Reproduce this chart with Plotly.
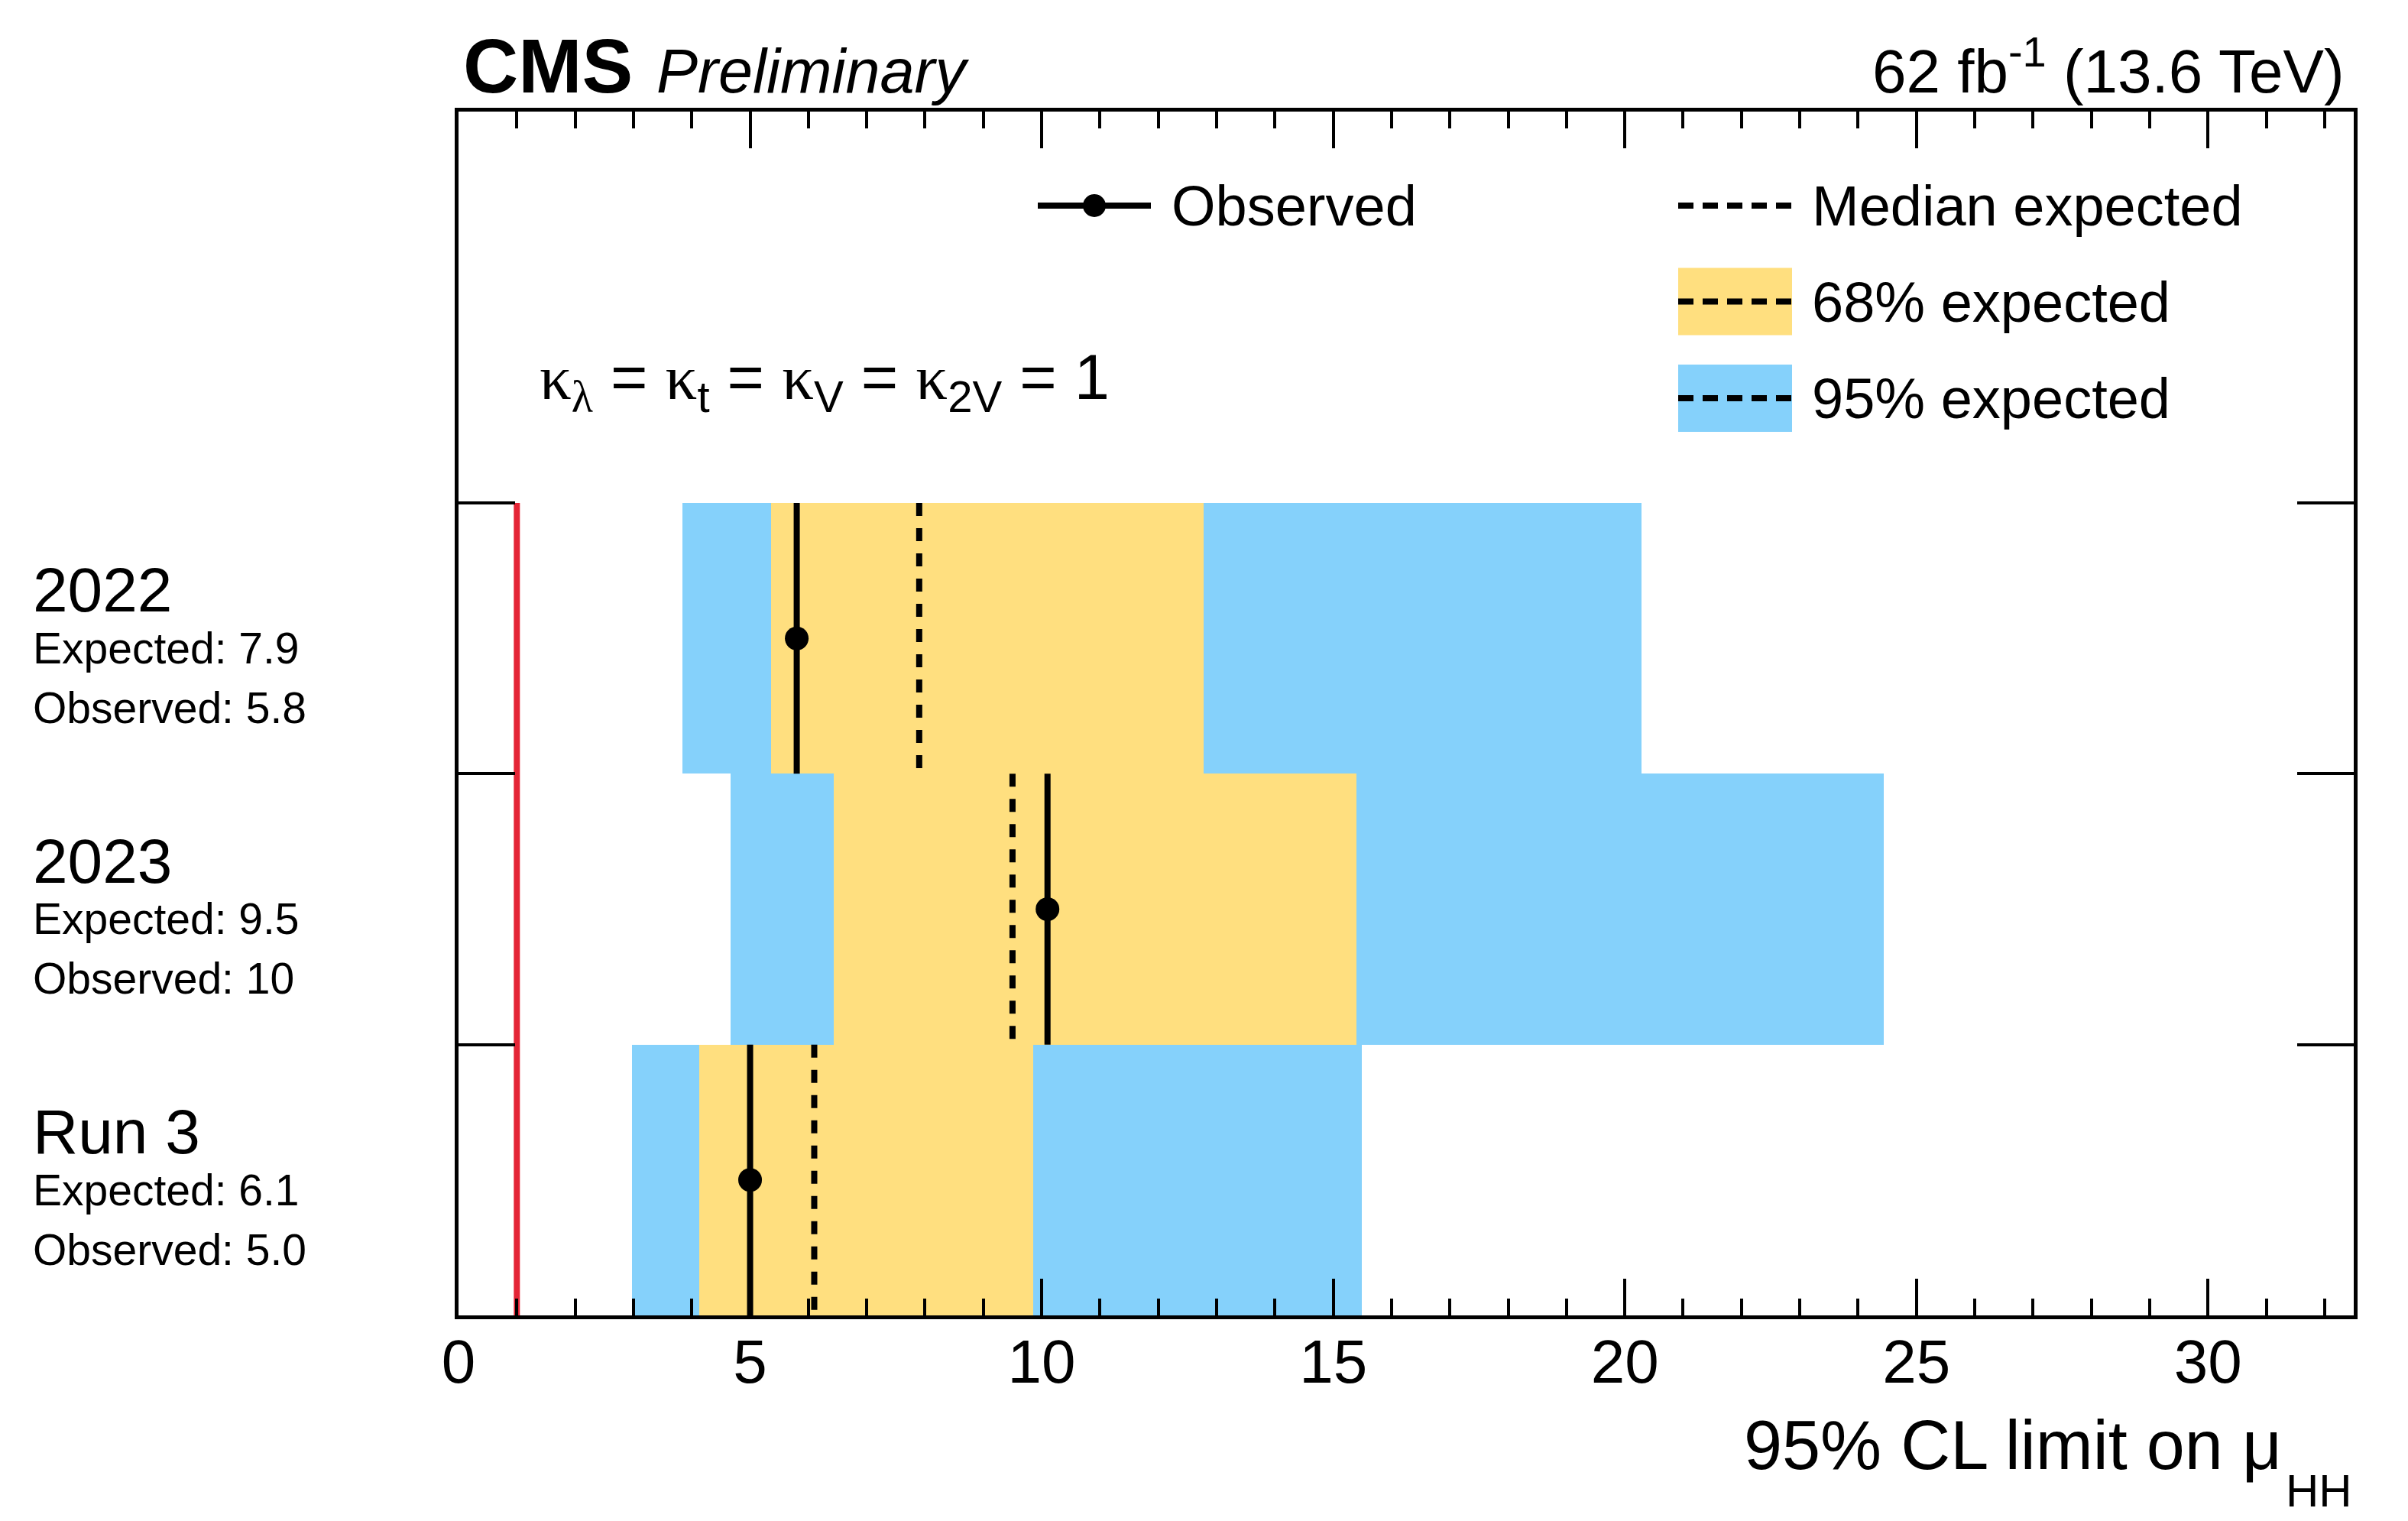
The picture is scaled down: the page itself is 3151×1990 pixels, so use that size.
import plotly.graph_objects as go

# ---------------- data ----------------
categories = ["2022", "2023", "Run 3"]
observed = [5.8, 10.1, 5.0]
expected = [7.9, 9.5, 6.1]
lo68 = [5.36, 6.44, 4.13]
hi68 = [12.78, 15.40, 9.85]
lo95 = [3.84, 4.67, 2.98]
hi95 = [20.28, 24.44, 15.49]
expected_labels = ["7.9", "9.5", "6.1"]
observed_labels = ["5.8", "10", "5.0"]
sm_value = 1.0
x_ticks = [0, 5, 10, 15, 20, 25, 30]

# ---------------- style ----------------
W, H = 3151, 1990
L, R, T, B = 592, 3072, 138, 1713
FONT = "Liberation Sans"
YEL = "#FFDF7F"
BLU = "#85D1FB"
RED = "#E42536"
n = len(categories)
YMAX = 4.445


def px(x):
    return (x - L) / (R - L)


def py(y):
    return (B - y) / (B - T)


fig = go.Figure()
centers = [n - 1 - i + 0.5 for i in range(n)]

fig.add_trace(go.Bar(y=centers, x=[h - l for l, h in zip(lo95, hi95)], base=lo95,
                     orientation="h", width=1, marker=dict(color=BLU, line=dict(width=0)),
                     showlegend=False, hoverinfo="skip"))
fig.add_trace(go.Bar(y=centers, x=[h - l for l, h in zip(lo68, hi68)], base=lo68,
                     orientation="h", width=1, marker=dict(color=YEL, line=dict(width=0)),
                     showlegend=False, hoverinfo="skip"))

fig.add_trace(go.Scatter(x=[sm_value, sm_value], y=[0, n], mode="lines",
                         line=dict(color=RED, width=8), showlegend=False, hoverinfo="skip"))

for i, c in enumerate(centers):
    fig.add_trace(go.Scatter(x=[expected[i], expected[i]], y=[c + 0.5, c - 0.5], mode="lines",
                             line=dict(color="black", width=8, dash="17px,16px"),
                             showlegend=False, hoverinfo="skip"))
    fig.add_trace(go.Scatter(x=[observed[i], observed[i]], y=[c - 0.5, c + 0.5], mode="lines",
                             line=dict(color="black", width=8),
                             showlegend=False, hoverinfo="skip"))

fig.add_trace(go.Scatter(x=observed, y=centers, mode="markers",
                         marker=dict(size=31, color="black", opacity=1, line=dict(width=0)),
                         showlegend=False, hoverinfo="skip"))

ann = []


def text(x, y, s, size, xanchor="left", yanchor="bottom", **kw):
    ann.append(dict(x=x, y=y, xref="paper", yref="paper", text=s, showarrow=False,
                    xanchor=xanchor, yanchor=yanchor,
                    font=dict(family=FONT, size=size, color="black"), **kw))


# header
text(px(596), py(115 + 0.212 * 100), "<b>CMS</b>", 100)
text(px(849), py(115 + 0.212 * 81), "<i>Preliminary</i>", 81)
text(px(3062), py(115 + 0.212 * 80), "62 fb<sup>-1</sup> (13.6 TeV)", 80, xanchor="right")

# kappa text
k = '<span style="font-family:Liberation Serif">κ</span>'
ktxt = (k + '<sub><span style="font-family:Liberation Serif">λ</span></sub> = ' + k
        + "<sub>t</sub> = " + k + "<sub>V</sub> = " + k + "<sub>2V</sub> = 1")
text(px(696), py(509 + 0.448 * 83), ktxt, 83)

# legend text
text(px(1523), py(289 + 0.212 * 74), "Observed", 74)
text(px(2361), py(289 + 0.212 * 74), "Median expected", 74)
text(px(2361), py(415 + 0.212 * 74), "68% expected", 74)
text(px(2361), py(541 + 0.212 * 74), "95% expected", 74)

# x title
text(px(2980), py(1916 + 0.212 * 90), "95% CL limit on μ", 90, xanchor="right")
text(px(3072), py(1965 + 0.212 * 60), "HH", 60, xanchor="right")

# row labels
row_h = (B - T) / YMAX
for i, cat in enumerate(categories):
    top = B - (n - i) * row_h
    text(px(33), py(top + 144 + 0.212 * 82), cat, 82)
    text(px(33), py(top + 212 + 0.212 * 57), "Expected: " + expected_labels[i], 57)
    text(px(33), py(top + 290 + 0.212 * 57), "Observed: " + observed_labels[i], 57)

# legend glyph shapes
shapes = []
shapes.append(dict(type="rect", xref="paper", yref="paper", x0=px(2188), x1=px(2337),
                   y0=py(430.5), y1=py(342.5), fillcolor=YEL, line=dict(width=0), layer="above"))
shapes.append(dict(type="rect", xref="paper", yref="paper", x0=px(2188), x1=px(2337),
                   y0=py(557), y1=py(469), fillcolor=BLU, line=dict(width=0), layer="above"))
for yy in (261, 386.5, 513):
    shapes.append(dict(type="line", xref="paper", yref="paper", x0=px(2188), x1=px(2337),
                       y0=py(yy), y1=py(yy), line=dict(color="black", width=8, dash="20px,12px"),
                       layer="above"))
shapes.append(dict(type="line", xref="paper", yref="paper", x0=px(1350), x1=px(1498),
                   y0=py(261), y1=py(261), line=dict(color="black", width=8), layer="above"))
shapes.append(dict(type="circle", xref="paper", yref="paper", xsizemode="pixel", ysizemode="pixel",
                   xanchor=px(1424), yanchor=py(261), x0=-15, x1=15, y0=-15, y1=15,
                   fillcolor="black", line=dict(width=0), layer="above"))

fig.update_layout(
    width=W, height=H,
    margin=dict(l=L, r=W - R, t=T, b=H - B, pad=0),
    paper_bgcolor="white", plot_bgcolor="white",
    barmode="overlay", bargap=0,
    annotations=ann, shapes=shapes,
    showlegend=False,
    xaxis=dict(range=[0, 32.5], tickvals=x_ticks, ticks="inside", ticklen=48, tickwidth=4,
               tickcolor="black", showline=True, linecolor="black", linewidth=4.5, mirror="ticks",
               showgrid=False, zeroline=False,
               tickfont=dict(family=FONT, size=80, color="black"), ticklabelstandoff=-13,
               minor=dict(dtick=1, ticks="inside", ticklen=22, tickwidth=4, tickcolor="black",
                          showgrid=False)),
    yaxis=dict(range=[0, YMAX], tickvals=[1, 2, 3], ticks="inside", ticklen=74, tickwidth=4,
               tickcolor="black", showticklabels=False, showline=True, linecolor="black",
               linewidth=4.5, mirror="ticks", showgrid=False, zeroline=False),
)

fig.write_html("out.html")
